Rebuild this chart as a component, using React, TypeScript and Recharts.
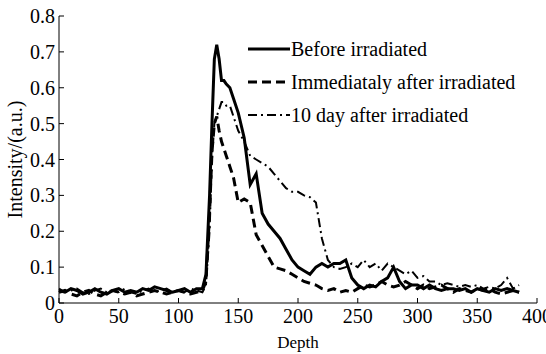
import { Line, LineChart, XAxis, YAxis } from "recharts";

const depth = [
  0, 5, 10, 15, 20, 25, 30, 35, 40, 45, 50, 55, 60, 65, 70, 75, 80, 85, 90, 95, 100, 105, 110, 115, 120,
  123, 126, 128, 130, 132, 134, 136, 138, 140, 143, 146, 150,
  155, 160, 165, 170, 175, 180, 185, 190, 195, 200, 205, 210, 215, 220, 225, 230, 235, 240, 245, 250,
  255, 260, 265, 270, 275, 280, 285, 290, 295, 300, 305, 310, 315, 320, 325, 330, 335, 340, 345, 350,
  355, 360, 365, 370, 375, 380, 385,
];

const before = [
  0.035, 0.03, 0.04, 0.035, 0.025, 0.03, 0.04, 0.03, 0.025, 0.035, 0.04, 0.03, 0.035, 0.03, 0.04, 0.035, 0.045, 0.04, 0.035, 0.03, 0.035, 0.04, 0.03, 0.04, 0.04,
  0.08, 0.3, 0.5, 0.68, 0.72, 0.68, 0.62, 0.62, 0.61, 0.6, 0.57, 0.53,
  0.46, 0.33, 0.36, 0.25, 0.22, 0.2, 0.18, 0.15, 0.12, 0.1, 0.09, 0.08, 0.1, 0.11, 0.1, 0.11, 0.11, 0.12, 0.07, 0.05,
  0.04, 0.05, 0.045, 0.06, 0.07, 0.1, 0.06, 0.04, 0.05, 0.05, 0.04, 0.05, 0.04, 0.035, 0.04, 0.04, 0.035, 0.04, 0.03, 0.04,
  0.035, 0.03, 0.04, 0.035, 0.04, 0.035, 0.03,
];

const immediately = [
  0.03, 0.035, 0.025, 0.02, 0.03, 0.035, 0.025, 0.02, 0.03, 0.035, 0.03, 0.025, 0.03, 0.02, 0.025, 0.03, 0.035, 0.03, 0.025, 0.03, 0.035, 0.03, 0.025, 0.03, 0.035,
  0.06, 0.25, 0.42, 0.5, 0.52, 0.48, 0.45, 0.43, 0.41, 0.38, 0.35, 0.28,
  0.29, 0.28, 0.19, 0.16, 0.13, 0.1, 0.095, 0.09, 0.08, 0.07, 0.06, 0.055, 0.05, 0.04, 0.035, 0.04, 0.03, 0.035, 0.03, 0.04,
  0.05, 0.045, 0.05, 0.06, 0.05, 0.045, 0.05, 0.06, 0.05, 0.04, 0.05, 0.04, 0.045, 0.05, 0.04, 0.03, 0.04, 0.035, 0.03, 0.04,
  0.035, 0.04, 0.03, 0.025, 0.03, 0.035, 0.03,
];

const tenDay = [
  0.04, 0.03, 0.035, 0.04, 0.03, 0.025, 0.035, 0.04, 0.03, 0.035, 0.03, 0.04, 0.03, 0.025, 0.035, 0.04, 0.03, 0.035, 0.04, 0.03, 0.035, 0.03, 0.04, 0.035, 0.03,
  0.05, 0.2, 0.4, 0.5, 0.52, 0.54, 0.56, 0.56, 0.55, 0.55, 0.52, 0.48,
  0.45, 0.41, 0.4, 0.39, 0.38, 0.36, 0.34, 0.32, 0.31, 0.31, 0.3, 0.295, 0.28, 0.18, 0.12, 0.1, 0.095, 0.1, 0.11, 0.1,
  0.12, 0.1, 0.11, 0.09, 0.11, 0.1, 0.09, 0.08, 0.09, 0.07, 0.075, 0.06, 0.06, 0.05, 0.055, 0.05, 0.045, 0.05, 0.045, 0.05,
  0.04, 0.045, 0.04, 0.05, 0.07, 0.04, 0.05,
];

const xTicks = [0, 50, 100, 150, 200, 250, 300, 350, 400];
const yTicks = [0, 0.1, 0.2, 0.3, 0.4, 0.5, 0.6, 0.7, 0.8];

const seriesNames = ["Before irradiated", "Immediataly after irradiated", "10 day after irradiated"];

const data = depth.map((d, i) => ({
  depth: d,
  before: before[i],
  immediately: immediately[i],
  tenDay: tenDay[i],
}));

const FONT = "'Liberation Serif', 'Times New Roman', serif";
const tickStyle = { fontSize: 20, fill: "#000", fontFamily: FONT };
const dashes = ["", "9 5", "9 4 2 4"];
const widths = [3, 3, 2];

function LegendBox() {
  return (
    <svg
      width={300}
      height={100}
      style={{ position: "absolute", left: 245, top: 33, fontFamily: FONT }}
    >
      {seriesNames.map((name, i) => (
        <g key={name}>
          <line
            x1={3}
            x2={45}
            y1={16 + i * 33}
            y2={16 + i * 33}
            stroke="#000"
            strokeWidth={widths[i]}
            strokeDasharray={dashes[i]}
          />
          <text x={46} y={23 + i * 33} fontSize={20} fill="#000">
            {name}
          </text>
        </g>
      ))}
    </svg>
  );
}

export default function App() {
  return (
    <div style={{ position: "absolute", left: 0, top: 0, width: 546, height: 354, background: "#fff" }}>
      <LineChart
        width={546}
        height={354}
        data={data}
        margin={{ top: 16, right: 9, bottom: 21, left: 0 }}
      >
        <XAxis
          xAxisId="b"
          dataKey="depth"
          type="number"
          domain={[0, 400]}
          ticks={xTicks}
          interval={0}
          height={30}
          tickSize={-5}
          tickMargin={11}
          tick={tickStyle}
          stroke="#000"
          label={{ value: "Depth", position: "insideBottom", offset: -15, style: { fontSize: 17, fill: "#000", fontFamily: FONT } }}
        />
        <XAxis
          xAxisId="t"
          orientation="top"
          dataKey="depth"
          type="number"
          domain={[0, 400]}
          ticks={xTicks}
          height={0}
          tickSize={-5}
          tick={false}
          stroke="#000"
        />
        <YAxis
          yAxisId="l"
          type="number"
          domain={[0, 0.8]}
          ticks={yTicks}
          interval={0}
          width={59}
          tickSize={-5}
          tickMargin={9}
          tick={tickStyle}
          tickFormatter={(v: number) => (v === 0 ? "0" : v.toFixed(1))}
          stroke="#000"
          label={{ value: "Intensity/(a.u.)", angle: -90, position: "insideLeft", offset: 15, style: { fontSize: 20, fill: "#000", fontFamily: FONT, textAnchor: "middle" } }}
        />
        <YAxis
          yAxisId="r"
          orientation="right"
          type="number"
          domain={[0, 0.8]}
          ticks={yTicks}
          width={0}
          tickSize={-5}
          tick={false}
          stroke="#000"
        />
        <Line
          xAxisId="b"
          yAxisId="l"
          dataKey="before"
          stroke="#000"
          strokeWidth={3}
          dot={false}
          isAnimationActive={false}
        />
        <Line
          xAxisId="b"
          yAxisId="l"
          dataKey="immediately"
          stroke="#000"
          strokeWidth={3}
          strokeDasharray="9 5"
          dot={false}
          isAnimationActive={false}
        />
        <Line
          xAxisId="b"
          yAxisId="l"
          dataKey="tenDay"
          stroke="#000"
          strokeWidth={2}
          strokeDasharray="9 4 2 4"
          dot={false}
          isAnimationActive={false}
        />
      </LineChart>
      <LegendBox />
    </div>
  );
}
